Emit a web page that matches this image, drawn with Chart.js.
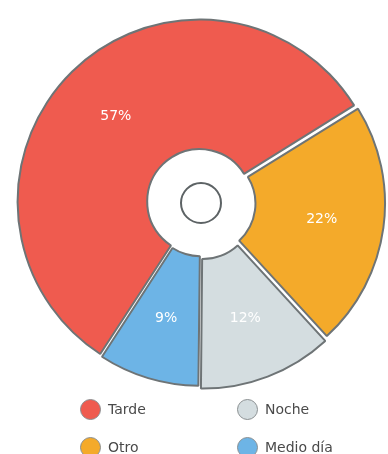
<!DOCTYPE html>
<html>
<head>
<meta charset="utf-8">
<title>Franja horaria</title>
<script src="https://cdn.jsdelivr.net/npm/chart.js"></script>
<style>
  body {
    margin: 0;
    background: #ffffff;
    font-family: 'DejaVu Sans', sans-serif;
  }
  .wrap {
    position: relative;
    width: 388px;
    height: 454px;
  }
  #chart {
    position: absolute;
    left: 0;
    top: 0;
  }
  .legend {
    position: absolute;
    left: 80px;
    top: 397px;
    display: grid;
    grid-template-columns: 157px 120px;
    grid-template-rows: 38px 38px;
    grid-auto-flow: column;
  }
  .legend-item {
    display: flex;
    align-items: center;
    height: 24px;
    font-size: 14px;
    color: #4a4a4a;
  }
  .legend-dot {
    width: 21px;
    height: 21px;
    border-radius: 50%;
    border: 1.5px solid #8a8f91;
    margin-right: 7px;
    box-sizing: border-box;
  }
</style>
</head>
<body>
<div class="wrap">
  <canvas id="chart" width="388" height="454"></canvas>
  <div class="legend" id="legend"></div>
</div>
<script>
  // Share of activity by time of day
  const labels = ['Tarde', 'Otro', 'Noche', 'Medio día'];
  const values = [57, 22, 12, 9];
  const colors = ['#ef5b4f', '#f4aa2a', '#d4dde0', '#6db4e6'];
  // how far each slice is pulled out of the ring
  const offsets = [8, 16, 18, 8];

  const sliceText = {
    id: 'sliceText',
    afterDatasetsDraw(chart) {
      const ctx = chart.ctx;
      const meta = chart.getDatasetMeta(0);
      const first = meta.data[0];

      // small ring in the middle of the hole
      ctx.save();
      ctx.beginPath();
      ctx.arc(first.x, first.y, 20, 0, Math.PI * 2);
      ctx.lineWidth = 2;
      ctx.strokeStyle = '#5d6365';
      ctx.stroke();

      ctx.fillStyle = '#ffffff';
      ctx.font = '14px "DejaVu Sans", sans-serif';
      ctx.textAlign = 'center';
      ctx.textBaseline = 'middle';
      meta.data.forEach((arc, i) => {
        const half = (arc.startAngle + arc.endAngle) / 2;
        const sweep = arc.endAngle - arc.startAngle;
        const off = (arc.options.offset || 0) / 4;
        const shift = off + off * (1 - Math.sin(Math.min(Math.PI, sweep)));
        const r = shift + arc.innerRadius + (arc.outerRadius - arc.innerRadius) * 0.52;
        ctx.fillText(values[i] + '%', arc.x + Math.cos(half) * r, arc.y + Math.sin(half) * r);
      });
      ctx.restore();
    }
  };

  new Chart(document.getElementById('chart'), {
    type: 'doughnut',
    data: {
      labels: labels,
      datasets: [{
        data: values,
        backgroundColor: colors,
        borderColor: '#6e7476',
        borderWidth: 2,
        offset: offsets
      }]
    },
    options: {
      responsive: false,
      animation: false,
      rotation: -147,
      radius: 180,
      cutout: '28%',
      layout: { padding: { left: 14, bottom: 48 } },
      plugins: {
        legend: { display: false },
        tooltip: { enabled: false }
      }
    },
    plugins: [sliceText]
  });

  // legend laid out in two columns
  const legend = document.getElementById('legend');
  labels.forEach((name, i) => {
    const item = document.createElement('div');
    item.className = 'legend-item';
    const dot = document.createElement('span');
    dot.className = 'legend-dot';
    dot.style.background = colors[i];
    item.appendChild(dot);
    item.appendChild(document.createTextNode(name));
    legend.appendChild(item);
  });
</script>
</body>
</html>
